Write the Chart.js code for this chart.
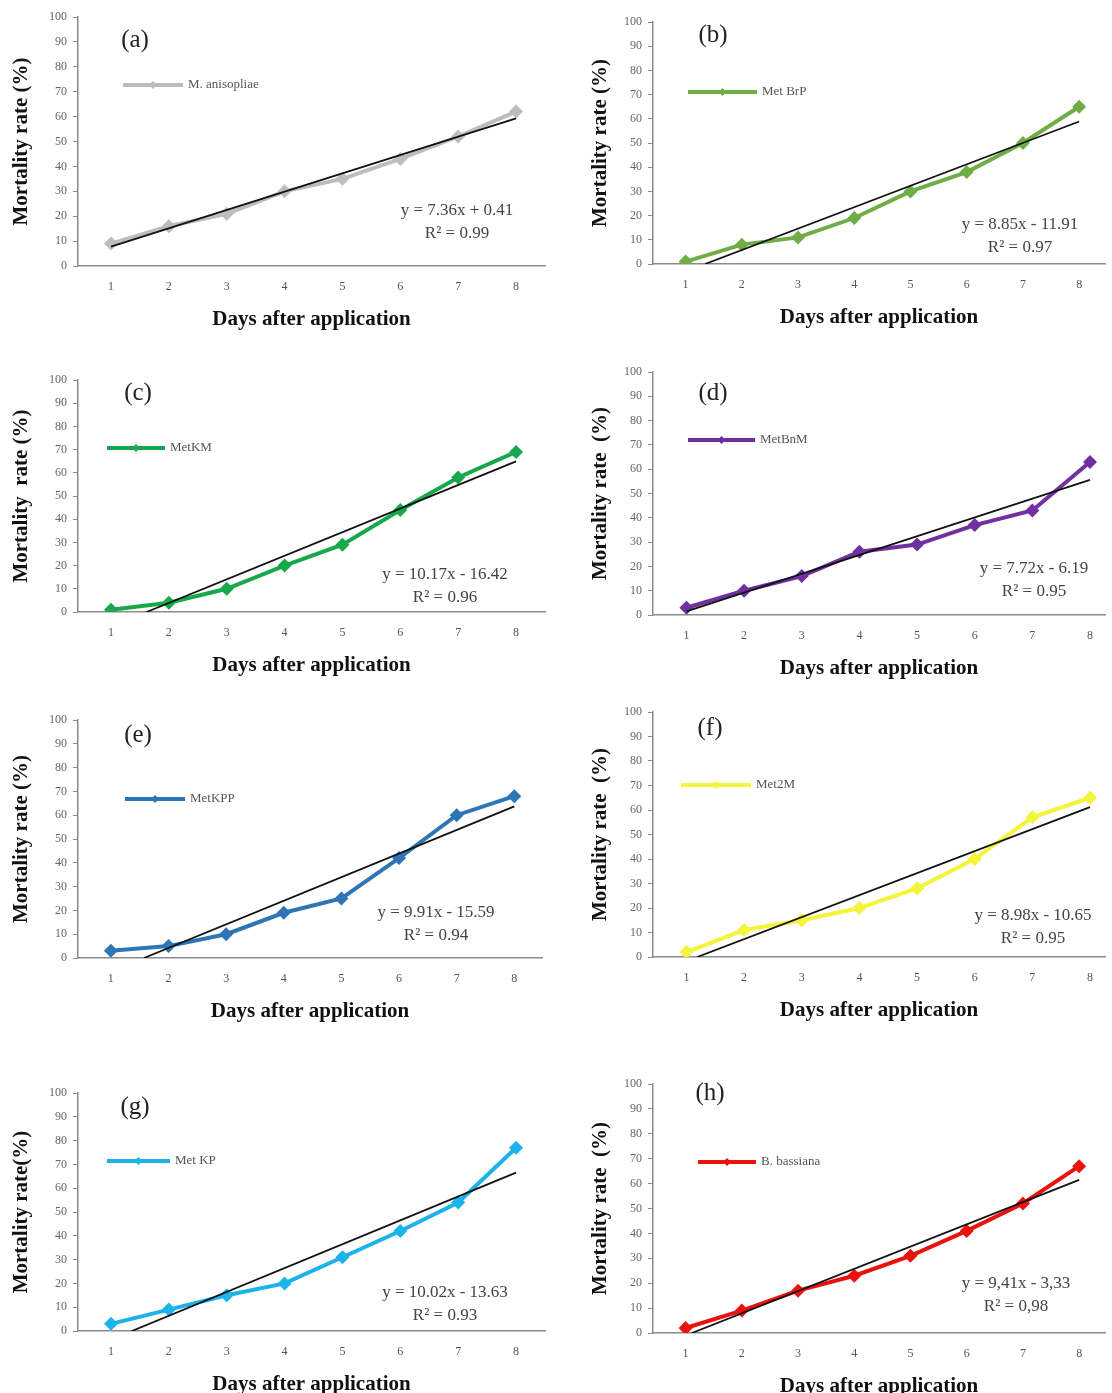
<!DOCTYPE html>
<html>
<head>
<meta charset="utf-8">
<script src="https://cdn.jsdelivr.net/npm/chart.js@4.4.1/dist/chart.umd.min.js"></script>
<style>
  body { margin: 0; background: #fff; }
  #wrap { position: relative; width: 1112px; height: 1393px; overflow: hidden; }
  canvas { position: absolute; }
</style>
</head>
<body>
<div id="wrap"></div>
<script>
// days after application (x categories)
const days = [1, 2, 3, 4, 5, 6, 7, 8];

// mortality rate (%) per isolate
const mAnisopliae = [9, 16, 21, 30, 35, 43, 52, 62];
const metBrP      = [1, 8, 11, 19, 30, 38, 50, 65];
const metKM       = [1, 4, 10, 20, 29, 44, 58, 69];
const metBnM      = [3, 10, 16, 26, 29, 37, 43, 63];
const metKPP      = [3, 5, 10, 19, 25, 42, 60, 68];
const met2M       = [2, 11, 15, 20, 28, 40, 57, 65];
const metKP       = [3, 9, 15, 20, 31, 42, 54, 77];
const bBassiana   = [2, 9, 17, 23, 31, 41, 52, 67];

const seriesNames = ['M. anisopliae', 'Met BrP', 'MetKM', 'MetBnM', 'MetKPP', 'Met2M', 'Met KP', 'B. bassiana'];
const panelLabels = ['(a)', '(b)', '(c)', '(d)', '(e)', '(f)', '(g)', '(h)'];
const yTitles = ['Mortality rate (%)', 'Mortality rate (%)', 'Mortality  rate (%)', 'Mortality rate  (%)',
                 'Mortality rate (%)', 'Mortality rate  (%)', 'Mortality rate(%)', 'Mortality rate  (%)'];

// linear trend lines as drawn (slope, intercept)
const trendSlope     = [7.36, 8.85, 10.17, 7.72, 9.91, 8.98, 10.02, 8.93];
const trendIntercept = [0.41, -11.91, -16.42, -6.19, -15.59, -10.65, -13.63, -9.93];
const eqLines = ['y = 7.36x + 0.41', 'y = 8.85x - 11.91', 'y = 10.17x - 16.42', 'y = 7.72x - 6.19',
                 'y = 9.91x - 15.59', 'y = 8.98x - 10.65', 'y = 10.02x - 13.63', 'y = 9,41x - 3,33'];
const r2Lines = ['R² = 0.99', 'R² = 0.97', 'R² = 0.96', 'R² = 0.95', 'R² = 0.94', 'R² = 0.95', 'R² = 0.93', 'R² = 0,98'];

const yTicks = [0, 10, 20, 30, 40, 50, 60, 70, 80, 90, 100];

const allSeries = [mAnisopliae, metBrP, metKM, metBnM, metKPP, met2M, metKP, bBassiana];
const colors = ['#bdbdbd', '#70ad47', '#17a84c', '#7030a0', '#2e75b6', '#f4f43c', '#1cb2ea', '#e8130f'];

// panel geometry: canvas column, plot area edges, x range, text offsets
const layout = [
  {col: 0, top: 17,   bottom: 266,  right: 545,  xmin: 0.43, xmax: 8.5,  lab: [57, 23], leg: [45, 105, 68], eq: [379, -55]},
  {col: 1, top: 22,   bottom: 264,  right: 1110, xmin: 0.42, xmax: 8.46, lab: [60, 13], leg: [35, 104, 70], eq: [367, -39]},
  {col: 0, top: 380,  bottom: 612,  right: 545,  xmin: 0.43, xmax: 8.5,  lab: [60, 13], leg: [29, 87, 68],  eq: [367, -37]},
  {col: 1, top: 372,  bottom: 615,  right: 1112, xmin: 0.42, xmax: 8.26, lab: [60, 21], leg: [35, 102, 68], eq: [381, -46]},
  {col: 0, top: 720,  bottom: 958,  right: 542,  xmin: 0.43, xmax: 8.48, lab: [60, 15], leg: [47, 107, 79], eq: [358, -45]},
  {col: 1, top: 712,  bottom: 957,  right: 1112, xmin: 0.42, xmax: 8.26, lab: [57, 16], leg: [28, 98, 73],  eq: [380, -41]},
  {col: 0, top: 1093, bottom: 1331, right: 545,  xmin: 0.43, xmax: 8.5,  lab: [57, 14], leg: [29, 92, 68],  eq: [367, -38]},
  {col: 1, top: 1084, bottom: 1333, right: 1110, xmin: 0.42, xmax: 8.46, lab: [57, 9],  leg: [45, 103, 78], eq: [363, -49]}
];
const axisLeft = [78, 653];

const SERIF = '"Liberation Serif", "DejaVu Serif", serif';

const panelText = {
  id: 'panelText',
  afterDatasetsDraw(chart, args, opts) {
    const ctx = chart.ctx;
    const a = chart.chartArea;
    const L = opts.layout;
    const i = opts.index;
    ctx.save();
    // panel label
    ctx.fillStyle = '#222';
    ctx.font = '25px ' + SERIF;
    ctx.textAlign = 'center';
    ctx.textBaseline = 'middle';
    ctx.fillText(panelLabels[i], a.left + L.lab[0], a.top + L.lab[1]);
    // legend
    const ly = a.top + L.leg[2];
    ctx.strokeStyle = colors[i];
    ctx.lineWidth = 4;
    ctx.beginPath();
    ctx.moveTo(a.left + L.leg[0], ly);
    ctx.lineTo(a.left + L.leg[1], ly);
    ctx.stroke();
    const mx = a.left + (L.leg[0] + L.leg[1]) / 2;
    ctx.fillStyle = colors[i];
    ctx.beginPath();
    ctx.moveTo(mx, ly - 4); ctx.lineTo(mx + 4, ly); ctx.lineTo(mx, ly + 4); ctx.lineTo(mx - 4, ly);
    ctx.closePath(); ctx.fill();
    ctx.fillStyle = '#555';
    ctx.font = '13px ' + SERIF;
    ctx.textAlign = 'left';
    ctx.fillText(seriesNames[i], a.left + L.leg[1] + 5, ly);
    // equation
    ctx.fillStyle = '#444';
    ctx.font = '17px ' + SERIF;
    ctx.textAlign = 'center';
    const ex = a.left + L.eq[0];
    const ey = a.bottom + L.eq[1];
    ctx.fillText(eqLines[i], ex, ey);
    ctx.fillText(r2Lines[i], ex, ey + 23);
    ctx.restore();
  }
};

const wrap = document.getElementById('wrap');

layout.forEach((L, i) => {
  const cLeft = L.col * 556;
  const cTop = L.top - 17;
  const cW = 556;
  const xAxisH = 66;
  const cH = (L.bottom - cTop) + xAxisH;
  const canvas = document.createElement('canvas');
  canvas.width = cW; canvas.height = cH;
  canvas.style.left = cLeft + 'px';
  canvas.style.top = cTop + 'px';
  canvas.style.width = cW + 'px';
  canvas.style.height = cH + 'px';
  wrap.appendChild(canvas);

  const yW = axisLeft[L.col] - cLeft;
  const m = trendSlope[i], b = trendIntercept[i];
  const x0 = Math.max(days[0], b < 0 ? -b / m : days[0]);
  const x1 = days[days.length - 1];

  new Chart(canvas.getContext('2d'), {
    type: 'line',
    data: {
      datasets: [
        {
          label: 'Linear (' + seriesNames[i] + ')',
          data: [{x: x0, y: m * x0 + b}, {x: x1, y: m * x1 + b}],
          borderColor: '#111',
          borderWidth: 1.8,
          pointRadius: 0,
          order: 0
        },
        {
          label: seriesNames[i],
          data: days.map((d, k) => ({x: d, y: allSeries[i][k]})),
          borderColor: colors[i],
          backgroundColor: colors[i],
          borderWidth: 4,
          pointStyle: 'rectRot',
          pointRadius: 7,
          pointBorderWidth: 0,
          order: 1
        }
      ]
    },
    options: {
      responsive: false,
      animation: false,
      devicePixelRatio: 1,
      layout: { padding: { top: 17, left: 0, right: cLeft + cW - L.right, bottom: 0 } },
      plugins: {
        legend: { display: false },
        tooltip: { enabled: false },
        panelText: { index: i, layout: L }
      },
      scales: {
        x: {
          type: 'linear',
          min: L.xmin,
          max: L.xmax,
          afterBuildTicks: s => { s.ticks = days.map(v => ({value: v})); },
          afterFit: s => { s.height = xAxisH; },
          grid: { display: false, drawTicks: false },
          border: { display: true, color: '#8c8c8c', width: 1.5 },
          ticks: { padding: 14, color: '#555', font: { family: SERIF, size: 12 } },
          title: {
            display: true,
            text: 'Days after application',
            color: '#111',
            font: { family: SERIF, size: 21, weight: 'bold' },
            padding: { top: 2, bottom: 0 }
          }
        },
        y: {
          min: 0,
          max: 100,
          afterBuildTicks: s => { s.ticks = yTicks.map(v => ({value: v})); },
          afterFit: s => { s.width = yW; },
          grid: { drawOnChartArea: false, drawTicks: true, tickLength: 5, color: '#8c8c8c', lineWidth: 1 },
          border: { display: true, color: '#8c8c8c', width: 1.5 },
          ticks: { padding: 6, color: '#666', font: { family: SERIF, size: 12 } },
          title: {
            display: true,
            text: yTitles[i],
            color: '#111',
            font: { family: SERIF, size: 21, weight: 'bold' },
            padding: { top: L.col === 0 ? 9 : 32, bottom: 0 }
          }
        }
      }
    },
    plugins: [panelText]
  });
});
</script>
</body>
</html>
